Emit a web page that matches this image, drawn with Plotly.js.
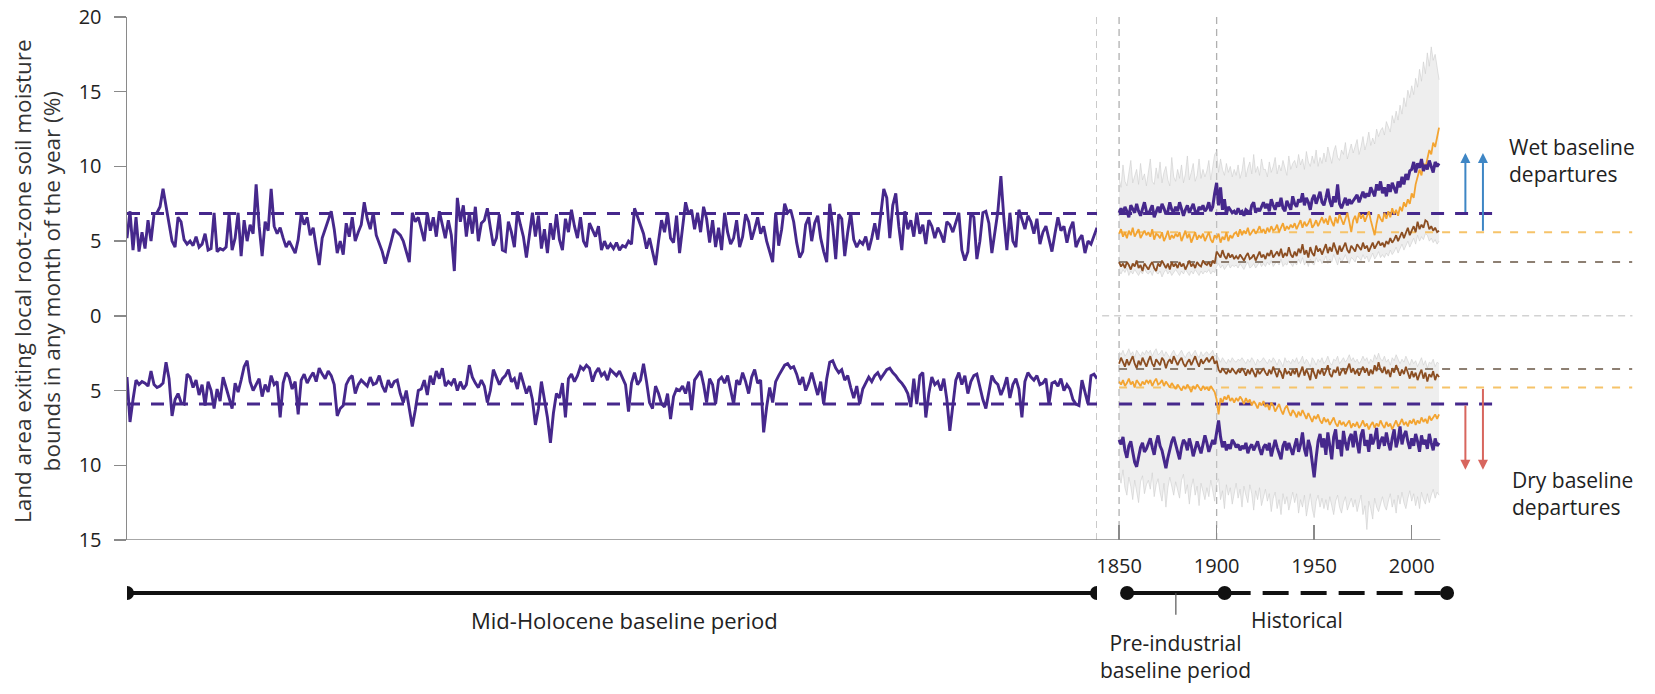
<!DOCTYPE html>
<html>
<head>
<meta charset="utf-8">
<script src="https://cdn.plot.ly/plotly-3.0.1.min.js"></script>
<style>
  html, body { margin: 0; padding: 0; background: #ffffff; }
  #chart { width: 1655px; height: 694px; }
</style>
</head>
<body>
<div id="chart"></div>
<script>
// ---------------------------------------------------------------------------
// Land area (%) leaving its local root-zone soil-moisture bounds.
// Wet departures are plotted upwards, dry departures downwards.
// ---------------------------------------------------------------------------

// Mid-Holocene control run (model years, one value per step)
const holoceneWet = [
  5.2,7.0,4.4,6.6,4.3,5.6,4.5,6.4,5.0,6.8,6.9,7.3,8.5,7.4,6.3,5.0,4.6,6.6,
  6.3,5.1,4.8,5.0,4.7,5.3,4.6,4.8,5.5,4.4,4.5,6.9,4.3,4.5,4.4,4.6,6.8,4.4,
  5.2,6.9,4.0,6.4,5.0,6.1,5.5,8.8,6.0,4.0,6.3,5.7,8.5,6.0,5.5,5.9,5.2,4.6,
  5.0,4.6,4.2,5.1,6.8,6.1,6.6,5.4,5.9,4.6,3.4,5.2,5.8,6.5,7.0,5.8,4.2,5.0,
  4.1,6.2,5.3,6.6,5.0,5.6,6.1,7.6,6.5,5.8,6.9,5.4,4.8,4.3,3.5,4.2,5.0,5.8,
  5.6,5.4,5.0,4.3,3.6,6.9,6.3,6.6,5.7,5.0,6.9,5.7,6.6,5.3,7.0,6.0,5.2,6.4,
  5.4,3.0,7.9,6.3,7.4,5.3,6.9,5.5,7.3,5.0,6.2,6.4,7.2,5.9,4.7,5.2,6.8,4.4,
  4.3,6.3,5.6,4.6,7.0,6.1,5.3,3.9,5.5,6.9,5.3,6.7,4.5,5.8,4.2,6.2,5.1,6.8,
  5.1,4.4,6.5,5.6,7.1,6.0,5.2,6.6,5.0,4.6,6.2,5.8,5.3,6.0,4.4,5.0,4.5,4.8,
  4.5,4.9,4.4,4.7,4.6,5.0,4.8,7.2,6.6,6.0,5.5,4.5,5.2,4.3,3.4,5.0,6.4,5.6,
  6.9,5.2,4.9,6.7,4.2,5.9,7.6,6.8,7.1,5.8,6.9,5.6,7.3,6.5,4.9,6.4,4.6,5.9,
  4.4,6.9,5.6,4.8,5.2,6.4,4.6,5.3,6.8,6.3,5.1,5.8,6.6,5.5,6.0,5.0,4.2,3.6,
  6.9,4.7,5.8,7.5,6.9,7.1,6.3,4.9,3.9,4.3,6.1,6.6,5.0,6.2,6.7,5.2,4.3,3.6,
  7.5,6.0,3.8,6.8,6.5,4.0,5.6,6.9,5.1,4.6,5.0,4.8,5.3,4.4,5.2,6.2,5.1,7.0,
  8.5,7.9,5.2,7.4,8.2,6.0,4.4,7.0,5.8,6.4,5.3,6.9,5.5,6.1,4.8,6.4,6.0,5.2,
  5.9,5.5,4.9,6.3,6.1,5.6,6.3,6.9,4.4,3.7,4.3,6.9,6.6,3.8,5.0,6.9,7.0,6.2,
  4.2,5.6,7.0,9.35,6.5,4.4,6.9,5.0,4.6,7.1,6.4,5.8,6.7,6.3,5.5,6.5,4.8,5.6,
  6.0,5.1,4.3,5.5,6.6,5.7,6.0,4.9,5.8,6.3,4.6,5.1,5.4,4.2,5.0,4.8,5.4,5.9
];
const holoceneDry = [
  4.1,7.1,5.6,4.3,4.6,4.4,4.5,4.7,3.7,4.6,4.8,4.7,4.5,3.1,4.2,6.7,5.6,5.2,
  5.8,5.9,3.9,4.1,4.8,4.3,5.3,4.6,6.0,4.4,5.0,6.2,4.9,5.7,4.1,4.8,5.4,6.2,
  4.5,5.1,4.3,3.4,3.0,4.4,5.0,4.6,4.2,5.4,4.6,5.1,4.0,4.6,4.4,6.8,4.5,3.8,
  4.1,4.9,4.4,6.6,4.3,3.9,4.5,4.1,3.8,4.4,3.5,3.9,4.2,3.7,4.0,4.6,6.7,6.2,
  6.0,4.6,4.2,4.0,5.2,4.6,4.3,4.5,4.7,4.1,4.6,4.5,4.0,4.7,5.1,4.3,4.8,4.4,
  4.3,5.2,5.8,5.0,6.2,7.4,6.3,5.0,4.9,4.3,5.3,4.0,4.6,3.7,4.2,3.5,4.7,4.4,
  4.6,4.2,5.0,4.4,4.9,4.6,3.3,4.1,4.5,4.8,4.3,4.7,5.8,5.0,3.6,4.1,4.6,4.2,
  4.0,3.6,4.4,4.2,4.9,3.8,4.5,5.2,4.7,5.6,7.3,6.2,4.4,5.5,6.8,8.5,6.5,5.2,
  5.5,4.5,6.8,4.2,3.9,4.4,4.0,3.4,3.6,3.3,3.5,4.4,3.8,3.5,4.0,3.8,4.3,3.6,
  3.8,4.0,3.7,4.2,4.6,6.4,4.5,3.8,4.6,4.3,3.2,4.4,5.8,6.2,4.7,5.2,5.9,6.1,
  5.2,6.9,5.4,4.9,5.0,4.7,5.2,4.4,6.3,4.3,4.0,3.7,4.6,5.8,4.2,4.6,5.9,4.3,
  4.1,4.5,4.0,5.0,5.9,4.3,4.6,3.8,4.4,5.2,4.1,3.6,4.5,4.3,7.8,6.1,4.8,5.8,
  4.4,4.0,3.6,3.3,3.2,3.5,3.4,3.9,4.6,4.1,5.0,4.5,3.8,4.6,5.3,4.4,5.9,4.2,
  3.1,3.0,3.5,3.8,3.6,4.3,4.0,4.8,5.5,4.7,5.9,4.9,4.5,4.1,4.4,4.0,3.8,4.2,
  3.9,3.6,3.5,3.8,4.0,4.3,4.5,4.8,5.2,6.1,4.2,5.9,4.0,3.8,6.8,5.2,4.1,4.6,
  4.4,5.0,4.2,5.6,7.7,5.8,4.3,3.8,4.6,4.0,5.2,4.4,4.0,3.9,4.8,5.6,6.2,5.0,
  4.0,4.4,4.6,5.3,4.8,4.1,5.5,4.6,4.2,4.9,6.8,4.4,3.8,4.1,4.3,4.0,4.6,4.5,
  4.2,5.9,4.5,4.4,4.7,4.2,5.0,4.6,4.9,5.6,5.9,6.0,4.3,5.1,5.9,4.0,3.9,4.2
];

// Historical period, 1850-2014
const firstYear = 1850;
const lastYear = 2014;

// departures from the mid-Holocene bounds (multi-model mean)
const histHoloceneWet = [
  6.9,7.2,6.8,7.3,7.0,6.6,7.4,7.1,6.9,7.5,7.0,6.7,7.2,7.6,7.0,
  6.8,7.1,7.4,6.6,7.0,7.3,6.9,7.5,7.2,6.8,7.0,7.6,7.1,6.9,7.3,
  7.0,7.6,7.2,6.7,7.1,7.4,6.9,7.2,7.5,7.0,6.8,7.3,7.1,7.4,7.0,
  7.2,7.6,7.0,7.3,8.2,8.9,7.4,8.6,7.1,7.8,6.8,7.3,7.1,6.9,7.0,
  6.8,7.2,6.9,7.0,6.7,7.1,7.0,6.8,7.4,7.6,6.9,7.2,7.0,7.3,7.6,
  7.2,7.5,7.0,7.8,7.4,7.1,7.6,7.3,7.9,7.2,7.0,7.7,7.4,7.1,8.0,
  7.5,7.3,7.8,7.6,8.2,7.4,7.9,7.6,7.1,7.8,8.1,7.5,7.9,8.3,7.6,
  7.4,7.9,8.5,7.7,7.3,8.0,7.6,8.8,7.5,7.2,7.6,7.9,7.4,7.8,7.5,
  7.7,7.9,8.1,7.6,8.0,8.3,7.9,8.2,8.0,8.6,8.3,8.0,8.8,8.4,9.0,
  8.2,8.6,8.0,8.8,8.3,8.9,8.5,8.2,9.0,8.6,9.3,8.8,9.5,9.1,9.7,
  9.8,10.3,9.6,10.2,9.9,10.5,9.7,10.1,9.8,10.4,10.0,9.6,10.3,10.0,10.2
];
const histHoloceneDry = [
  8.3,8.6,8.1,9.0,9.5,8.7,8.4,9.2,9.8,10.1,9.4,8.8,8.5,9.1,8.9,
  8.6,8.2,8.8,9.3,8.5,8.0,8.7,9.0,9.6,10.2,9.5,8.9,8.4,8.1,8.6,
  9.1,9.6,8.8,8.3,8.5,9.0,8.2,8.7,9.4,8.9,8.4,8.8,9.2,8.6,8.0,
  8.5,9.1,8.7,8.3,8.6,7.8,7.0,8.1,8.8,8.4,9.0,8.6,8.9,8.3,8.5,
  8.8,8.6,9.0,8.7,8.9,8.5,9.2,8.8,8.6,9.0,8.7,8.4,8.9,9.3,8.8,
  8.6,9.0,8.5,9.4,8.9,8.3,8.8,9.2,9.6,8.7,8.4,9.0,8.5,8.9,9.3,
  8.7,8.2,9.1,8.6,7.8,8.9,9.4,8.3,8.8,9.9,10.8,9.5,8.4,7.9,8.8,
  8.2,9.3,7.8,8.6,9.6,8.1,7.6,8.9,8.3,9.4,7.7,8.5,9.0,8.2,7.9,
  8.8,7.7,8.5,9.2,8.0,7.6,8.7,8.3,9.1,7.9,8.6,8.2,7.5,8.9,8.4,
  8.1,8.7,7.8,8.5,9.0,8.2,7.6,8.8,8.3,7.4,8.6,8.0,7.7,8.4,8.9,
  8.2,8.7,7.9,8.4,9.1,8.0,8.6,8.3,8.9,7.9,8.5,9.0,8.2,8.7,8.5
];

// departures from the pre-industrial bounds (multi-model mean)
const histPreindWet = [
  5.5,5.8,5.3,5.6,5.2,5.7,5.4,5.9,5.3,5.6,5.8,5.2,5.5,5.7,5.4,
  5.6,5.3,5.8,5.1,5.5,5.4,5.2,5.6,5.0,5.3,5.7,5.1,5.4,5.2,5.5,
  5.3,5.6,5.0,5.4,5.7,5.2,5.5,4.9,5.3,5.6,5.1,5.4,5.2,5.5,5.0,
  5.3,5.6,5.1,4.9,5.4,5.2,5.5,4.9,5.3,5.1,5.6,5.0,5.4,5.2,5.5,
  5.6,5.3,5.8,5.4,5.7,5.5,5.9,5.4,5.6,5.8,5.5,5.7,6.0,5.6,5.8,
  5.5,5.9,5.6,6.0,5.7,5.8,6.1,5.6,5.9,6.2,5.7,6.0,5.8,6.1,5.9,
  6.2,5.8,6.1,6.4,5.9,6.3,6.0,6.2,6.5,5.9,6.1,6.4,6.0,6.3,6.6,
  6.2,6.5,6.1,6.7,6.3,6.0,6.6,6.2,6.8,6.4,6.1,6.5,6.9,6.3,5.6,
  6.4,6.7,6.2,6.9,6.5,6.8,6.3,6.6,7.0,6.4,5.8,5.4,6.2,6.8,6.5,
  6.3,6.9,6.5,7.0,6.6,7.2,6.8,7.1,6.7,7.3,7.0,7.6,7.3,7.8,7.5,
  8.2,7.9,8.8,9.3,9.8,9.4,10.2,9.9,10.6,11.1,10.8,11.6,11.3,12.0,12.6
];
const histPreindDry = [
  4.4,4.6,4.3,4.7,4.5,4.2,4.6,4.4,4.8,4.3,4.5,4.7,4.4,4.6,4.3,
  4.5,4.3,4.7,4.4,4.2,4.6,4.5,4.3,4.7,4.4,4.6,4.8,4.5,4.7,4.9,
  4.6,4.8,5.0,4.7,4.9,4.6,4.8,5.1,4.7,4.9,4.6,4.8,5.0,4.7,4.9,
  4.8,5.0,4.7,4.9,5.1,5.6,6.6,5.5,5.8,5.4,5.6,5.3,5.7,5.5,5.8,
  5.5,5.7,5.4,5.6,5.9,5.5,5.8,5.6,6.0,5.7,5.9,6.2,5.8,6.0,5.7,
  6.1,5.9,6.3,5.8,6.0,6.4,6.1,5.9,6.3,6.6,6.2,6.0,6.4,6.7,6.3,
  6.5,6.8,6.4,6.7,6.3,6.6,6.9,6.5,6.8,7.1,6.7,6.9,6.6,7.0,7.2,
  6.8,7.1,6.9,7.3,7.0,6.8,7.2,7.4,7.0,7.3,7.1,7.4,7.2,7.0,7.5,
  7.2,7.4,7.1,7.5,7.3,7.0,7.4,7.2,7.6,7.3,7.1,7.5,7.2,7.4,7.0,
  7.3,7.5,7.1,7.4,7.2,7.6,7.3,7.0,7.4,7.2,6.9,7.3,7.1,7.4,7.0,
  7.2,6.9,7.3,7.0,7.2,6.8,7.1,6.9,7.2,6.7,7.0,6.8,6.6,6.9,6.6
];

// departures from the pre-industrial bounds (natural forcing only)
const histNaturalWet = [
  3.6,3.3,3.5,3.2,3.6,3.4,3.1,3.5,3.3,3.7,3.2,3.4,3.0,3.5,3.3,
  3.1,3.4,3.6,3.2,3.0,3.5,3.3,3.7,3.4,3.2,3.5,3.1,3.6,3.3,3.5,
  3.2,3.6,3.3,3.5,3.1,3.4,3.7,3.3,3.5,3.2,3.6,3.4,3.3,3.7,3.5,
  3.4,3.6,3.3,3.7,3.5,4.3,4.1,3.9,4.4,4.0,3.8,4.2,3.9,4.1,3.8,
  4.0,3.8,4.1,3.9,3.7,4.0,4.2,3.8,3.9,4.1,3.7,4.0,4.3,3.9,4.1,
  3.8,4.2,4.0,4.4,3.9,4.1,4.3,4.0,4.5,3.9,4.2,4.0,4.6,4.1,3.9,
  4.3,4.0,4.5,4.2,4.8,4.1,4.4,3.9,4.6,4.2,4.0,4.7,4.3,4.5,4.1,
  4.4,4.8,4.2,4.6,4.3,4.9,4.5,4.1,4.7,4.3,4.6,4.9,4.4,4.2,4.7,
  4.5,4.3,4.8,4.6,4.4,4.9,4.5,4.7,4.3,4.6,4.9,4.5,4.8,5.0,4.7,
  4.9,4.6,5.0,4.8,5.2,4.9,5.1,5.4,5.0,5.3,5.6,5.2,5.5,5.9,5.4,
  5.7,6.0,5.6,6.3,5.8,6.1,5.9,6.4,6.3,5.8,6.0,5.7,5.9,5.6,5.7
];
const histNaturalDry = [
  3.2,2.8,3.1,3.4,2.9,3.3,3.0,2.7,3.2,3.5,3.0,3.3,2.8,3.1,3.4,
  3.0,2.7,3.2,3.4,2.9,3.1,3.3,2.8,3.0,3.5,3.1,2.9,3.2,2.7,3.0,
  3.3,3.0,2.8,3.2,3.4,3.1,2.9,3.3,3.0,2.7,3.1,3.4,2.9,3.2,3.0,
  2.8,3.1,2.9,2.7,3.2,3.0,3.6,3.8,3.5,3.7,3.9,3.6,3.8,3.5,3.7,
  3.9,3.6,3.8,3.5,3.7,4.0,3.6,3.9,3.5,3.8,4.1,3.6,3.9,3.7,3.5,
  3.8,4.0,3.6,3.9,3.4,3.7,4.1,3.6,3.8,4.2,3.5,3.9,3.7,4.0,3.6,
  3.9,3.5,4.1,3.7,3.4,4.0,3.6,3.9,4.3,3.5,3.8,4.2,3.6,3.9,3.5,
  4.0,3.7,3.3,3.9,4.1,3.6,3.8,3.4,4.0,3.7,3.5,3.9,3.6,3.2,3.8,
  3.5,3.9,3.6,4.0,3.7,3.4,3.8,3.5,4.0,3.6,3.9,3.3,3.7,3.1,3.6,
  3.8,3.4,3.9,3.6,4.1,3.5,3.8,3.3,3.7,4.0,3.6,3.9,3.4,3.8,4.2,
  3.7,4.1,3.8,4.3,3.9,3.6,4.2,3.8,4.4,3.9,4.1,3.7,4.3,3.9,4.1
];

// spread of the individual model runs (upper / lower envelope)
const spreadWetHigh = [
  9.2,8.6,10.1,9.0,8.7,9.6,10.4,8.9,9.3,9.8,8.8,10.2,9.1,9.5,8.7,
  9.7,10.5,9.0,8.8,9.9,9.2,10.3,8.9,9.6,10.0,9.1,8.7,10.6,9.3,9.0,
  9.8,9.2,10.1,8.9,9.5,10.7,9.1,9.6,10.2,9.0,9.4,10.5,9.2,9.8,9.3,
  9.7,10.4,9.1,9.9,10.8,11.0,9.6,10.5,9.8,9.4,10.2,9.6,10.0,9.3,9.8,
  9.4,10.1,9.2,9.7,10.6,9.3,9.9,10.3,9.5,10.8,9.6,10.0,9.4,10.5,9.8,
  9.8,9.3,10.3,9.6,10.0,10.6,9.5,10.1,9.7,10.4,9.9,9.4,10.7,9.8,10.2,
  10.4,9.9,10.8,10.1,10.5,9.8,11.0,10.3,10.0,10.7,10.2,11.1,10.0,10.6,10.2,
  10.9,10.3,11.3,10.7,10.2,11.0,11.4,10.6,10.4,11.1,10.8,11.6,10.5,11.0,11.5,
  10.9,11.4,11.8,10.8,11.3,12.0,11.1,11.6,12.3,11.4,11.9,11.5,12.5,12.0,12.4,
  12.6,12.1,13.0,12.6,12.3,13.4,12.9,13.7,13.1,14.1,13.5,14.6,14.0,15.1,14.6,
  15.4,14.8,15.9,15.3,16.5,15.7,17.0,16.2,17.6,16.7,18.0,17.1,17.5,16.6,15.8
];
const spreadWetLow = [
  3.0,2.8,3.1,2.9,3.2,2.7,3.0,2.8,3.1,2.9,2.7,3.0,2.8,3.2,2.9,
  2.8,3.0,2.7,3.1,2.9,2.8,3.0,2.6,2.9,3.1,2.8,3.0,2.7,2.9,3.1,
  2.9,2.7,3.0,2.8,3.1,2.9,2.7,3.0,2.8,3.1,2.9,2.7,3.0,2.8,3.0,
  2.9,3.1,2.8,3.0,2.9,3.3,3.5,3.2,3.4,3.1,3.3,3.5,3.2,3.4,3.3,
  3.4,3.2,3.5,3.3,3.1,3.4,3.6,3.2,3.3,3.5,3.2,3.4,3.6,3.3,3.5,
  3.3,3.6,3.4,3.7,3.3,3.5,3.6,3.4,3.8,3.3,3.5,3.4,3.7,3.5,3.3,
  3.6,3.4,3.8,3.5,3.9,3.4,3.7,3.3,3.8,3.5,3.4,3.9,3.6,3.8,3.5,
  3.7,4.0,3.5,3.8,3.6,4.1,3.7,3.4,3.9,3.6,3.8,4.1,3.7,3.5,3.9,
  3.8,3.6,4.0,3.9,3.7,4.1,3.8,4.0,3.6,3.9,4.2,3.8,4.0,4.3,3.9,
  4.1,3.9,4.2,4.0,4.4,4.1,4.3,4.6,4.2,4.5,4.8,4.4,4.7,5.0,4.6,
  4.9,5.2,4.8,5.4,5.0,5.3,5.1,5.5,5.4,5.0,5.2,4.9,5.1,4.8,5.0
];
const spreadDryHigh = [
  10.6,11.2,10.3,11.5,12.0,10.8,11.4,12.3,11.0,11.7,12.5,11.1,10.7,11.9,11.3,
  11.0,11.6,10.5,12.1,11.3,10.9,11.8,12.4,11.2,12.8,11.5,10.8,11.4,12.0,11.1,
  11.7,12.2,11.0,10.6,11.9,11.3,12.6,11.5,10.9,12.0,11.4,12.7,11.2,11.8,12.3,
  11.5,12.1,11.0,11.6,12.4,11.2,10.9,12.3,11.7,12.9,11.3,12.0,11.5,12.6,11.8,
  11.2,12.2,11.6,12.8,11.4,12.0,12.5,11.3,11.9,13.0,11.7,12.3,11.5,12.7,12.1,
  11.6,12.4,11.9,13.1,12.2,11.8,12.9,12.3,13.3,11.9,12.6,12.1,13.0,12.4,11.8,
  12.5,11.9,13.2,12.3,12.8,12.0,13.4,12.6,11.9,12.9,13.5,12.4,12.0,12.8,12.2,
  12.9,12.3,13.0,12.1,12.7,13.3,12.4,12.0,12.8,13.2,12.5,12.1,13.0,12.6,12.2,
  12.8,12.3,13.1,12.5,12.0,13.3,12.7,14.3,12.4,12.9,13.6,12.2,12.8,13.1,12.5,
  12.1,12.7,13.0,12.4,11.9,12.8,12.3,13.2,12.0,12.6,11.8,12.5,12.9,12.2,11.7,
  12.4,11.9,12.7,12.1,12.9,11.8,12.3,12.6,11.9,12.5,12.0,11.6,12.2,11.8,12.0
];
const spreadDryLow = [
  2.4,2.6,2.3,2.7,2.5,2.2,2.6,2.4,2.8,2.3,2.5,2.7,2.4,2.6,2.3,
  2.5,2.3,2.7,2.4,2.2,2.6,2.5,2.3,2.7,2.4,2.6,2.8,2.5,2.3,2.6,
  2.7,2.5,2.3,2.6,2.8,2.5,2.4,2.7,2.5,2.3,2.6,2.8,2.4,2.7,2.5,
  2.4,2.6,2.5,2.3,2.7,2.6,2.9,3.1,2.8,3.0,3.2,2.9,3.1,2.8,3.0,
  3.1,2.9,3.0,2.8,3.0,3.2,2.9,3.1,2.8,3.0,3.3,2.9,3.1,3.0,2.8,
  3.0,3.2,2.9,3.1,2.8,3.0,3.3,2.9,3.1,3.4,2.8,3.1,3.0,3.2,2.9,
  3.1,2.8,3.2,3.0,2.7,3.2,2.9,3.1,3.4,2.8,3.0,3.3,2.9,3.1,2.8,
  3.2,3.0,2.7,3.1,3.3,2.9,3.0,2.7,3.2,3.0,2.8,3.1,2.9,2.6,3.0,
  2.8,3.1,2.9,3.2,3.0,2.7,3.0,2.8,3.2,2.9,3.1,2.6,2.9,2.5,2.9,
  3.0,2.7,3.1,2.9,3.3,2.8,3.0,2.6,2.9,3.2,2.9,3.1,2.7,3.0,3.3,
  2.9,3.2,3.0,3.4,3.1,2.8,3.3,3.0,3.5,3.1,3.2,2.9,3.4,3.1,3.2
];

// baseline bounds: [mid-Holocene, pre-industrial (all forcing), pre-industrial (natural)]
const baselineWet = [6.85, 5.6, 3.6];
const baselineDry = [5.9, 4.8, 3.55];

// axis labelling
const yTickVals = [-15, -10, -5, 0, 5, 10, 15, 20];
const yTickText = ['15', '10', '5', '0', '5', '10', '15', '20'];
const xTickVals = [1850, 1900, 1950, 2000];

// periods shown on the timeline under the axis
const preindustrialPeriod = [1850, 1900];
const historicalPeriod = [1900, 2014];

// ---------------------------------------------------------------------------
const years = [];
for (let y = firstYear; y <= lastYear; y++) years.push(y);
const holoceneSteps = holoceneWet.map((_, i) => i);
const holoceneLast = holoceneSteps.length - 1;
const neg = a => a.map(v => -v);

const PURPLE = '#46288c';
const ORANGE = '#f3a431';
const BROWN = '#8b4e22';
const ORANGE_DASH = '#f6c369';
const BROWN_DASH = '#8d7f72';
const GREY_FILL = 'rgba(214,214,214,0.42)';
const GREY_EDGE = 'rgba(205,205,205,0.75)';
const FONT = '"Open Sans", "DejaVu Sans", sans-serif';

function band(lo, hi) {
  return [
    { x: years, y: lo, xaxis: 'x', yaxis: 'y', mode: 'lines',
      line: { color: GREY_EDGE, width: 0.8 }, hoverinfo: 'skip', showlegend: false },
    { x: years, y: hi, xaxis: 'x', yaxis: 'y', mode: 'lines', fill: 'tonexty',
      fillcolor: GREY_FILL, line: { color: GREY_EDGE, width: 0.8 },
      hoverinfo: 'skip', showlegend: false }
  ];
}
function hline(xs, xaxis, y, color, width, dash) {
  return { x: xs, y: [y, y], xaxis: xaxis, yaxis: 'y', mode: 'lines',
    line: { color: color, width: width, dash: dash }, hoverinfo: 'skip', showlegend: false };
}
function series(xs, ys, xaxis, color, width) {
  return { x: xs, y: ys, xaxis: xaxis, yaxis: 'y', mode: 'lines',
    line: { color: color, width: width }, hoverinfo: 'skip', showlegend: false };
}

// right-hand ends of the baseline guides (in years on the calendar axis)
const holoGuideEnd = 2044;
const preindGuideEnd = 2113;

const traces = [
  ...band(spreadWetLow, spreadWetHigh),
  ...band(neg(spreadDryLow), neg(spreadDryHigh)),

  hline([0, holoceneLast], 'x2', baselineWet[0], PURPLE, 3, '13px,11px'),
  hline([0, holoceneLast], 'x2', -baselineDry[0], PURPLE, 3, '13px,11px'),
  hline([firstYear, holoGuideEnd], 'x', baselineWet[0], PURPLE, 3, '13px,11px'),
  hline([firstYear, holoGuideEnd], 'x', -baselineDry[0], PURPLE, 3, '13px,11px'),
  hline([firstYear, preindGuideEnd], 'x', baselineWet[1], ORANGE_DASH, 2, '8px,9px'),
  hline([firstYear, preindGuideEnd], 'x', -baselineDry[1], ORANGE_DASH, 2, '8px,9px'),
  hline([firstYear, preindGuideEnd], 'x', baselineWet[2], BROWN_DASH, 2, '8px,9px'),
  hline([firstYear, preindGuideEnd], 'x', -baselineDry[2], BROWN_DASH, 2, '8px,9px'),

  series(holoceneSteps, holoceneWet, 'x2', PURPLE, 2.9),
  series(holoceneSteps, neg(holoceneDry), 'x2', PURPLE, 2.9),

  series(years, histNaturalWet, 'x', BROWN, 1.8),
  series(years, neg(histNaturalDry), 'x', BROWN, 1.8),
  series(years, histPreindWet, 'x', ORANGE, 1.8),
  series(years, neg(histPreindDry), 'x', ORANGE, 1.8),
  series(years, histHoloceneWet, 'x', PURPLE, 3),
  series(years, neg(histHoloceneDry), 'x', PURPLE, 3)
];

// --- timeline under the axis (drawn on its own, slightly offset year axis x3) ---
const tlY = -0.1013;
const dot = (xref, x) => ({
  type: 'circle', xref: xref, yref: 'paper', xsizemode: 'pixel', ysizemode: 'pixel',
  xanchor: x, yanchor: tlY, x0: -7, x1: 7, y0: -7, y1: 7,
  fillcolor: '#111', line: { width: 0 }, layer: 'above'
});
const vguide = (xref, x) => ({
  type: 'line', xref: xref, yref: 'y', x0: x, x1: x, y0: -15, y1: 20,
  line: { color: '#b0b0b0', width: 1.3, dash: '7px,5px' }, layer: 'below'
});
const preMid = (preindustrialPeriod[0] + preindustrialPeriod[1]) / 2;

const shapes = [
  vguide('x2', holoceneLast),
  vguide('x', preindustrialPeriod[0]),
  vguide('x', preindustrialPeriod[1]),
  // zero line
  { type: 'line', xref: 'paper', yref: 'y', x0: 0.01, x1: 0.995, y0: 0, y1: 0,
    line: { color: '#d2d2d2', width: 1.5, dash: '7px,5px' }, layer: 'below' },
  // x axis baseline
  { type: 'line', xref: 'paper', yref: 'y', x0: 0, x1: 0.868, y0: -15, y1: -15,
    line: { color: '#8a8a8a', width: 1.5 } },
  // timeline bars
  { type: 'line', xref: 'x2', yref: 'paper', x0: 0, x1: holoceneLast, y0: tlY, y1: tlY,
    line: { color: '#111', width: 4 } },
  { type: 'line', xref: 'x3', yref: 'paper', x0: preindustrialPeriod[0], x1: preindustrialPeriod[1],
    y0: tlY, y1: tlY, line: { color: '#111', width: 4 } },
  { type: 'line', xref: 'x3', yref: 'paper', x0: historicalPeriod[0], x1: historicalPeriod[1],
    y0: tlY, y1: tlY, line: { color: '#111', width: 4, dash: '26px,12px' } },
  { type: 'line', xref: 'x3', yref: 'paper', x0: preMid, x1: preMid,
    y0: tlY, y1: -0.143, line: { color: '#555', width: 1.2 } },
  dot('x2', 0), dot('x2', holoceneLast),
  dot('x3', preindustrialPeriod[0]), dot('x3', preindustrialPeriod[1]),
  dot('x3', historicalPeriod[1])
];

const arrow = (x, from, to, color) => ({
  x: x, y: to, ax: x, ay: from, xref: 'x', yref: 'y', axref: 'x', ayref: 'y',
  text: '', showarrow: true, arrowhead: 2, arrowsize: 1, arrowwidth: 2, arrowcolor: color
});
const BLUE = '#3e86c5';
const RED = '#d8665e';
const arrowX = [2027.5, 2036.5];
const wetTip = 10.9, dryTip = -10.3;

const textFont = { family: FONT, size: 21, color: '#222' };
const annotations = [
  arrow(arrowX[0], baselineWet[0], wetTip, BLUE),
  arrow(arrowX[1], baselineWet[1], wetTip, BLUE),
  arrow(arrowX[0], -baselineDry[0], dryTip, RED),
  arrow(arrowX[1], -baselineDry[1], dryTip, RED),
  { text: 'Wet baseline<br>departures', xref: 'paper', yref: 'y', x: 0.912, y: 10.4,
    xanchor: 'left', yanchor: 'middle', align: 'left', showarrow: false,
    font: { family: FONT, size: 21, color: '#222' } },
  { text: 'Dry baseline<br>departures', xref: 'paper', yref: 'y', x: 0.914, y: -11.9,
    xanchor: 'left', yanchor: 'middle', align: 'left', showarrow: false,
    font: { family: FONT, size: 21, color: '#222' } },
  { text: 'Land area exiting local root-zone soil moisture<br>bounds in any month of the year (%)',
    xref: 'paper', yref: 'paper', x: -0.0595, y: 0.495, textangle: -90,
    xanchor: 'center', yanchor: 'middle', showarrow: false,
    font: { family: FONT, size: 22.5, color: '#333' } },
  { text: 'Mid-Holocene baseline period', xref: 'x2', yref: 'paper',
    x: holoceneLast / 2 + 4, y: -0.153, xanchor: 'center', yanchor: 'middle',
    showarrow: false, font: { family: FONT, size: 22, color: '#222' } },
  { text: 'Historical', xref: 'x3', yref: 'paper', x: 1937, y: -0.153,
    xanchor: 'center', yanchor: 'middle', showarrow: false, font: textFont },
  { text: 'Pre-industrial<br>baseline period', xref: 'x3', yref: 'paper',
    x: preMid, y: -0.222,
    xanchor: 'center', yanchor: 'middle', showarrow: false, font: textFont }
];

const xRange = [1341.5, 2117];
const layout = {
  width: 1655, height: 694,
  margin: { l: 127, r: 15, t: 17, b: 154 },
  paper_bgcolor: '#ffffff', plot_bgcolor: '#ffffff',
  showlegend: false,
  font: { family: FONT, color: '#222' },
  xaxis: {
    domain: [0, 1], range: xRange, anchor: 'y',
    tickvals: xTickVals, ticks: 'inside', ticklen: 15, tickwidth: 1.5, tickcolor: '#8a8a8a',
    showline: false, showgrid: false, zeroline: false,
    tickfont: { family: FONT, size: 20, color: '#222' }, ticklabelstandoff: 12
  },
  xaxis2: {
    domain: [0, 0.6411], range: [0, holoceneLast], anchor: 'y',
    showticklabels: false, ticks: '', showline: false, showgrid: false, zeroline: false
  },
  xaxis3: {
    overlaying: 'x', anchor: 'y', range: [xRange[0] - 4.1, xRange[1] - 4.1],
    visible: false, showgrid: false, zeroline: false
  },
  yaxis: {
    domain: [0, 1], range: [-15, 20], anchor: 'x',
    tickvals: yTickVals, ticktext: yTickText, ticks: 'outside', ticklen: 12,
    tickwidth: 1.5, tickcolor: '#8a8a8a',
    showline: true, linecolor: '#8a8a8a', linewidth: 1.5,
    showgrid: false, zeroline: false, ticklabeloverflow: 'allow', ticklabelstandoff: 8,
    tickfont: { family: FONT, size: 20, color: '#222' }
  },
  shapes: shapes,
  annotations: annotations
};

Plotly.newPlot('chart', traces, layout, { displayModeBar: false, staticPlot: true });
</script>
</body>
</html>
